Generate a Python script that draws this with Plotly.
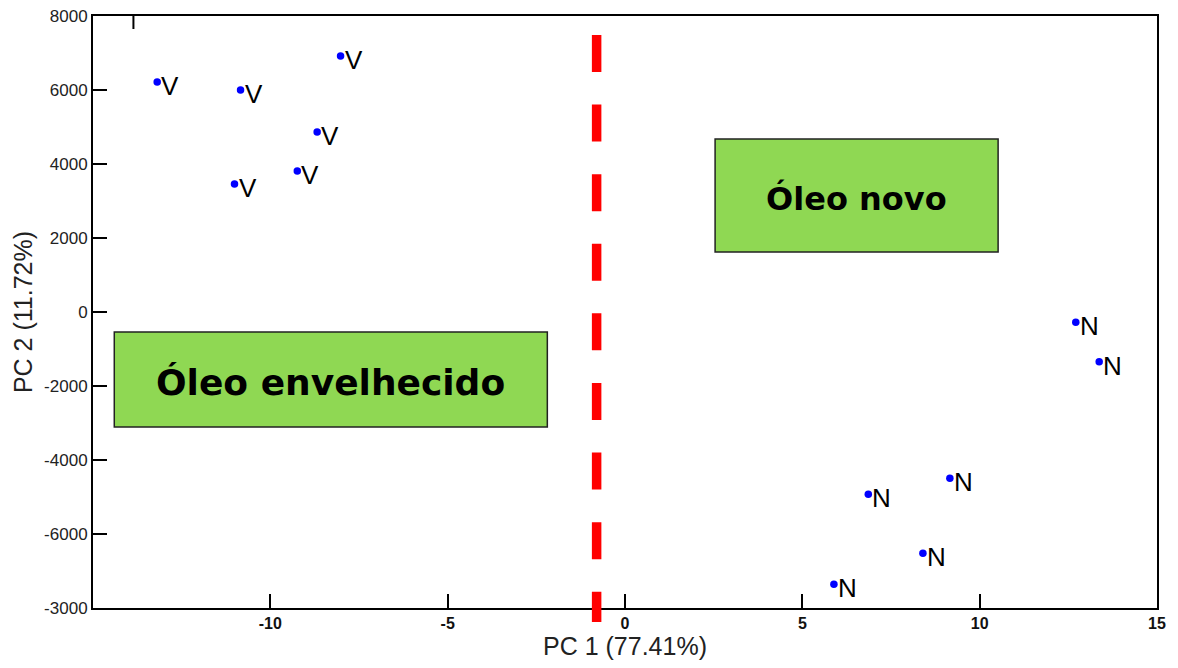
import plotly.graph_objects as go

# ---- data ----
v_x = [-13.19, -10.84, -8.02, -8.68, -9.24, -11.01]
v_y = [6216, 6000, 6919, 4865, 3811, 3459]
v_lab = ["V"] * len(v_x)

n_x = [12.71, 13.37, 9.16, 6.86, 8.40, 5.89]
n_y = [-279, -1344, -4496, -4929, -6523, -7361]
n_lab = ["N"] * len(n_x)

x_tickvals = [-10, -5, 0, 5, 10, 15]
x_ticktext = ["-10", "-5", "0", "5", "10", "15"]
y_tickvals = [-8000, -6000, -4000, -2000, 0, 2000, 4000, 6000, 8000]
y_ticktext = ["-3000", "-6000", "-4000", "-2000", "0", "2000", "4000", "6000", "8000"]

divider_x = -0.8
group_names = ["Óleo envelhecido", "Óleo novo"]

fig = go.Figure()
for xs, ys, labs in [(v_x, v_y, v_lab), (n_x, n_y, n_lab)]:
    fig.add_trace(go.Scatter(
        x=xs, y=ys, mode="markers", text=labs,
        marker=dict(color="#0000ff", size=7.5),
        showlegend=False, hoverinfo="skip", cliponaxis=False,
    ))
    for xx, yy, t in zip(xs, ys, labs):
        fig.add_annotation(x=xx, y=yy, text=t, showarrow=False,
                           xanchor="left", yanchor="middle", xshift=2, yshift=-4,
                           font=dict(family="Liberation Sans, Arial", size=26, color="black"))

shapes = [
    dict(type="line", xref="x", yref="paper", x0=divider_x, x1=divider_x,
         y0=0.968, y1=-0.0236, line=dict(color="#ff0000", width=9.5, dash="37px,32.6px"),
         layer="above"),
    dict(type="rect", xref="x", yref="y", x0=-14.40, x1=-2.19, y0=-3109, y1=-541,
         fillcolor="#8fd853", line=dict(color="#222222", width=1.5), layer="below"),
    dict(type="rect", xref="x", yref="y", x0=2.54, x1=10.52, y0=1621, y1=4675,
         fillcolor="#8fd853", line=dict(color="#222222", width=1.5), layer="below"),
    dict(type="line", xref="x", yref="paper", x0=-13.86, x1=-13.86, y0=1, y1=0.978,
         line=dict(color="black", width=2)),
]
fig.update_layout(shapes=shapes)

fig.add_annotation(x=(-14.40 - 2.19) / 2, y=(-3109 - 541) / 2, text="<b>" + group_names[0] + "</b>",
                   showarrow=False, yshift=-3,
                   font=dict(family="DejaVu Sans", size=36, color="black"))
fig.add_annotation(x=(2.54 + 10.52) / 2, y=(1621 + 4675) / 2, text="<b>" + group_names[1] + "</b>",
                   showarrow=False, yshift=-3,
                   font=dict(family="DejaVu Sans", size=32, color="black"))

fig.update_layout(
    width=1178, height=668,
    margin=dict(l=93, r=21, t=16, b=60, autoexpand=False),
    paper_bgcolor="white", plot_bgcolor="white",
    font=dict(family="Liberation Sans, Arial", color="#222222"),
    xaxis=dict(
        range=[-15, 15], tickvals=x_tickvals, ticktext=x_ticktext, ticks="inside", ticklen=14,
        tickwidth=1.5, tickcolor="black", showline=True, linecolor="black", linewidth=2,
        mirror=True, showgrid=False, zeroline=False, automargin=False,
        tickfont=dict(family="Liberation Sans, Arial", size=16, color="#111111", weight="bold"),
        title=dict(text="PC 1 (77.41%)", font=dict(size=25, color="#222222"), standoff=5),
    ),
    yaxis=dict(
        range=[-8000, 8000], tickvals=y_tickvals, ticktext=y_ticktext, ticks="inside",
        ticklen=14, tickwidth=2, tickcolor="black", showline=True, linecolor="black",
        linewidth=2, mirror=True, showgrid=False, zeroline=False, automargin=False,
        tickfont=dict(family="Liberation Sans, Arial", size=17, color="#222222"),
        title=dict(text="PC 2 (11.72%)", font=dict(size=25, color="#222222"), standoff=4),
    ),
)

fig.write_html("out.html")
